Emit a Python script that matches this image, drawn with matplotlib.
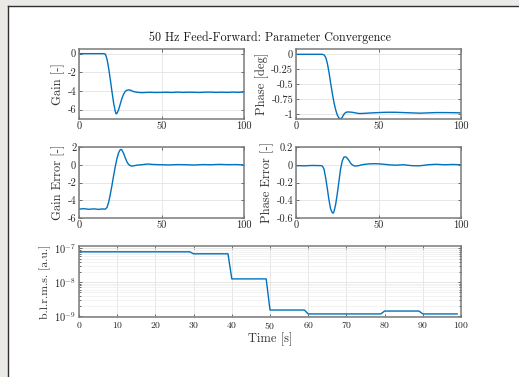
import numpy as np
import matplotlib
matplotlib.use("Agg")
import matplotlib.pyplot as plt
from matplotlib.patches import Rectangle
from matplotlib.lines import Line2D

plt.rcParams['font.family'] = ['cmr10', 'DejaVu Serif']
plt.rcParams['mathtext.fontset'] = 'cm'
plt.rcParams['axes.unicode_minus'] = False
plt.rcParams['axes.formatter.use_mathtext'] = True

BLUE = '#0072BD'

# ---- estimated gain of the feed-forward filter [-]
gain_t = [0, 5, 10, 15, 16, 17, 18, 19, 20, 21, 22, 22.5, 23, 24, 25, 26, 27, 28, 29, 30,
          31, 32, 33, 34, 36, 38, 40, 43, 46, 50, 53, 56, 60, 63, 66, 70, 73, 76, 80,
          83, 86, 90, 93, 96, 100]
gain_v = [0, 0, 0, 0, -0.05, -0.6, -1.6, -2.8, -4.1, -5.3, -6.2, -6.45, -6.4, -6.0, -5.4,
          -4.8, -4.35, -4.05, -3.92, -3.88, -3.9, -3.98, -4.05, -4.1, -4.15, -4.18, -4.16,
          -4.14, -4.16, -4.15, -4.13, -4.16, -4.12, -4.15, -4.13, -4.14, -4.16, -4.13,
          -4.12, -4.15, -4.13, -4.15, -4.12, -4.14, -4.12]

# ---- estimated phase [deg]
phase_t = [0, 10, 16, 17, 18, 19, 20, 21, 22, 23, 24, 25, 26, 27, 28, 29, 30, 31, 32, 34,
           36, 38, 40, 43, 46, 50, 55, 60, 65, 70, 75, 80, 85, 90, 95, 100]
phase_v = [0, 0, 0, -0.01, -0.05, -0.15, -0.3, -0.48, -0.65, -0.8, -0.92, -1.01, -1.06,
           -1.075, -1.05, -1.0, -0.97, -0.96, -0.96, -0.965, -0.975, -0.985, -0.985,
           -0.98, -0.975, -0.97, -0.965, -0.965, -0.97, -0.975, -0.98, -0.975, -0.97,
           -0.97, -0.972, -0.975]

# ---- gain error [-]
gerr_t = [0, 3, 6, 9, 12, 14, 16, 17, 18, 19, 20, 21, 22, 23, 24, 25, 25.5, 26, 27, 28,
          29, 30, 31, 32, 33, 35, 38, 40, 42, 45, 50, 55, 60, 65, 70, 75, 80, 85, 90, 95, 100]
gerr_v = [-5.0, -4.95, -5.02, -4.97, -5.03, -4.98, -5.0, -4.8, -4.2, -3.3, -2.3, -1.2,
          -0.2, 0.7, 1.35, 1.7, 1.72, 1.65, 1.3, 0.8, 0.35, 0.05, -0.1, -0.15, -0.12,
          -0.05, 0.0, 0.05, 0.08, 0.03, 0.0, -0.02, 0.02, 0.0, -0.03, 0.02, 0.0, 0.04,
          0.01, 0.02, -0.02]

# ---- phase error [-]
perr_t = [0, 5, 10, 15, 16, 17, 18, 19, 20, 21, 22, 22.5, 23, 24, 25, 26, 27, 28, 29, 30,
          31, 32, 33, 34, 35, 36, 38, 40, 44, 48, 52, 56, 60, 65, 70, 75, 80, 85, 90, 95, 100]
perr_v = [-0.01, -0.012, -0.008, -0.01, -0.015, -0.05, -0.15, -0.27, -0.4, -0.5, -0.54,
          -0.545, -0.53, -0.45, -0.33, -0.19, -0.05, 0.04, 0.085, 0.09, 0.075, 0.05,
          0.02, 0.0, -0.01, -0.015, -0.01, 0.0, 0.01, 0.012, 0.008, 0.0, -0.005, 0.0,
          -0.01, -0.012, 0.0, 0.005, 0.0, 0.003, 0.0]

# ---- band-limited r.m.s. per 1 s sample [a.u.]
blrms_t = [0, 29, 30, 39, 40, 49, 50, 59, 60, 79, 80, 89, 90, 99]
blrms_v = [7.9e-8, 7.9e-8, 6.9e-8, 6.9e-8, 1.25e-8, 1.25e-8, 1.5e-9, 1.5e-9,
           1.15e-9, 1.15e-9, 1.4e-9, 1.4e-9, 1.15e-9, 1.15e-9]

W, H = 519, 377
fig = plt.figure(figsize=(W / 100, H / 100), dpi=100)
fig.patch.set_facecolor('#ebeae7')

# white window area with its dark frame
fig.patches.append(Rectangle((8 / W, 0), 1 - 8 / W, 1 - 6 / H, transform=fig.transFigure,
                             facecolor='white', edgecolor='none', zorder=-10))
fig.lines.append(Line2D([7.5 / W, 7.5 / W], [0, 1 - 5.5 / H], transform=fig.transFigure,
                        color='#303030', lw=1.0))
fig.lines.append(Line2D([7.5 / W, 1], [1 - 5.5 / H, 1 - 5.5 / H], transform=fig.transFigure,
                        color='#303030', lw=1.0))


def add_axes(x0, y0, x1, y1):
    return fig.add_axes([x0 / W, 1 - y1 / H, (x1 - x0) / W, (y1 - y0) / H])


def style(ax):
    for s in ax.spines.values():
        s.set_color('#7a7a7a')
        s.set_linewidth(1.1)
    ax.tick_params(which='both', direction='in', top=True, right=True,
                   colors='#555555', labelcolor='#262626', labelsize=7.5,
                   length=2.5, width=0.6, pad=2)
    ax.tick_params(which='minor', length=1.5)
    ax.grid(True, color='#e3e3e3', lw=0.6)
    ax.set_axisbelow(True)


TICK_X = [0, 50, 100]

ax1 = add_axes(79, 49, 244, 119)
ax1.plot(gain_t, gain_v, color=BLUE, lw=1.0)
ax1.set_xlim(0, 100)
ax1.set_ylim(-7, 0.5)
ax1.set_xticks(TICK_X)
ax1.set_yticks([-6, -4, -2, 0])
ax1.set_yticklabels(['-6', '-4', '-2', '0'])
ax1.set_ylabel('Gain [-]', fontsize=9, labelpad=2, color='#333333')
style(ax1)

ax2 = add_axes(296, 49, 461, 119)
ax2.plot(phase_t, phase_v, color=BLUE, lw=1.0)
ax2.set_xlim(0, 100)
ax2.set_ylim(-1.077, 0.088)
ax2.set_xticks(TICK_X)
ax2.set_yticks([-1, -0.75, -0.5, -0.25, 0])
ax2.set_yticklabels(['-1', '-0.75', '-0.5', '-0.25', '0'])
ax2.set_ylabel('Phase [deg]', fontsize=9, labelpad=2, color='#333333')
style(ax2)

ax3 = add_axes(79, 147, 244, 218)
ax3.plot(gerr_t, gerr_v, color=BLUE, lw=1.0)
ax3.set_xlim(0, 100)
ax3.set_ylim(-6, 2)
ax3.set_xticks(TICK_X)
ax3.set_yticks([-6, -4, -2, 0, 2])
ax3.set_yticklabels(['-6', '-4', '-2', '0', '2'])
ax3.set_ylabel('Gain Error [-]', fontsize=9, labelpad=2, color='#333333')
style(ax3)

ax4 = add_axes(296, 147, 461, 218)
ax4.plot(perr_t, perr_v, color=BLUE, lw=1.0)
ax4.set_xlim(0, 100)
ax4.set_ylim(-0.6, 0.2)
ax4.set_xticks(TICK_X)
ax4.set_yticks([-0.6, -0.4, -0.2, 0, 0.2])
ax4.set_yticklabels(['-0.6', '-0.4', '-0.2', '0', '0.2'])
ax4.set_ylabel('Phase Error [-]', fontsize=9, labelpad=2, color='#333333')
style(ax4)

ax5 = add_axes(79, 246, 461, 317)
ax5.semilogy(blrms_t, blrms_v, color=BLUE, lw=1.0)
ax5.set_xlim(0, 100)
ax5.set_ylim(10 ** -9.03, 10 ** -6.93)
ax5.set_xticks(np.arange(0, 101, 10))
ax5.set_yticks([1e-9, 1e-8, 1e-7])
ax5.set_yticklabels([r'$10^{-9}$', r'$10^{-8}$', r'$10^{-7}$'])
ax5.set_ylabel('b.l.r.m.s. [a.u.]', fontsize=8.5, labelpad=2, color='#333333')
ax5.set_xlabel('Time [s]', fontsize=9, labelpad=1, color='#333333')
style(ax5)
ax5.tick_params(axis='x', labelsize=7)
ax5.grid(True, which='minor', axis='y', color='#eeeeee', lw=0.5)

for ax in (ax1, ax2, ax3, ax4):
    ax.set_xticklabels(['0', '50', '100'])

fig.text(270 / W, 1 - 38 / H, '50 Hz Feed-Forward: Parameter Convergence',
         ha='center', va='center', fontsize=8.7, color='#1a1a1a')

fig.savefig('out.png', dpi=100, facecolor=fig.get_facecolor())
